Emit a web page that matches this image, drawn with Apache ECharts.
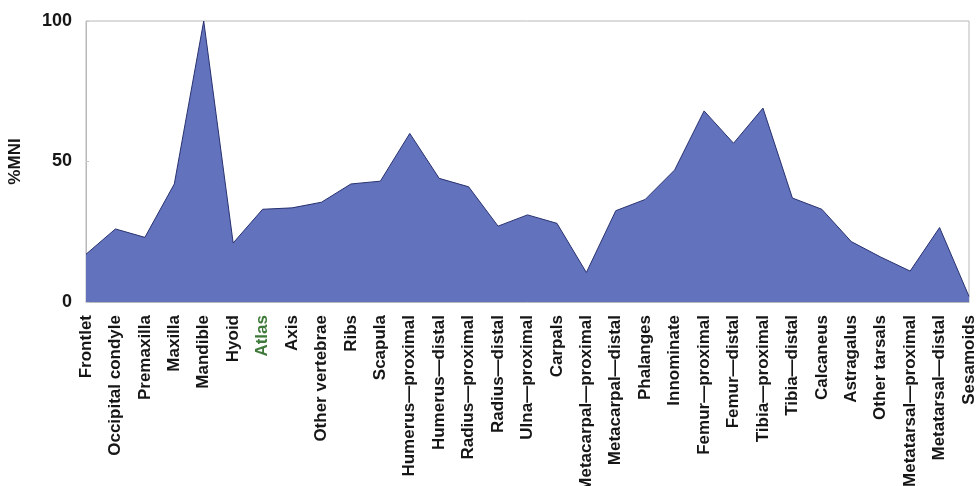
<!DOCTYPE html>
<html>
<head>
<meta charset="utf-8">
<script src="https://cdn.jsdelivr.net/npm/echarts@6/dist/echarts.min.js"></script>
<style>
  html, body { margin: 0; padding: 0; background: #ffffff; }
  #chart { width: 977px; height: 486px; }
</style>
</head>
<body>
<div id="chart"></div>
<script>
// Skeletal elements along the x axis
const elements = [
  'Frontlet', 'Occipital condyle', 'Premaxilla', 'Maxilla', 'Mandible', 'Hyoid',
  'Atlas', 'Axis', 'Other vertebrae', 'Ribs', 'Scapula',
  'Humerus\u2014proximal', 'Humerus\u2014distal', 'Radius\u2014proximal', 'Radius\u2014distal',
  'Ulna\u2014proximal', 'Carpals', 'Metacarpal\u2014proximal', 'Metacarpal\u2014distal',
  'Phalanges', 'Innominate', 'Femur\u2014proximal', 'Femur\u2014distal',
  'Tibia\u2014proximal', 'Tibia\u2014distal', 'Calcaneus', 'Astragalus', 'Other tarsals',
  'Metatarsal\u2014proximal', 'Metatarsal\u2014distal', 'Sesamoids'
];

// %MNI for each element
const mniPercent = [
  17, 26, 23, 42, 100, 21,
  33, 33.5, 35.5, 42, 43,
  60, 44, 41, 27,
  31, 28, 10.5, 32.5,
  36.5, 47, 68, 56.5,
  69, 37, 33, 21.5, 16,
  11, 26.5, 2
];

// Y axis ticks
const yTicks = { min: 0, max: 100, interval: 50 };
const yTitle = '%MNI';

const labelFont = 'Arial, "Liberation Sans", sans-serif';

const chart = echarts.init(document.getElementById('chart'));
chart.setOption({
  backgroundColor: '#ffffff',
  animation: false,
  grid: {
    left: 86, right: 8, top: 21, bottom: 184,
    containLabel: false,
    outerBoundsMode: 'none',
    show: true, borderColor: '#b8b8b8', borderWidth: 1, backgroundColor: 'transparent'
  },
  xAxis: {
    type: 'category',
    data: elements,
    boundaryGap: false,
    axisLine: { show: true, lineStyle: { color: '#b8b8b8', width: 1 } },
    axisTick: { show: false },
    splitLine: { show: false },
    axisLabel: {
      interval: 0,
      rotate: 90,
      margin: 13,
      fontFamily: labelFont,
      fontWeight: 'bold',
      fontSize: 17,
      color: function (value) { return value === 'Atlas' ? '#3f7a3a' : '#161616'; }
    }
  },
  yAxis: {
    type: 'value',
    min: yTicks.min,
    max: yTicks.max,
    interval: yTicks.interval,
    name: yTitle,
    nameLocation: 'middle',
    nameGap: 62,
    nameRotate: 90,
    nameTextStyle: { fontFamily: labelFont, fontWeight: 'bold', fontSize: 17, color: '#161616' },
    axisLine: { show: true, lineStyle: { color: '#b8b8b8', width: 1 } },
    axisTick: { show: true, inside: true, length: 3, lineStyle: { color: '#c8c8c8' } },
    splitLine: { show: false },
    axisLabel: {
      margin: 14,
      fontFamily: labelFont,
      fontWeight: 'bold',
      fontSize: 18,
      color: '#161616'
    }
  },
  series: [{
    type: 'line',
    data: mniPercent,
    symbol: 'none',
    lineStyle: { color: '#283270', width: 1 },
    areaStyle: { color: '#6272bd', opacity: 1 }
  }]
});
</script>
</body>
</html>
